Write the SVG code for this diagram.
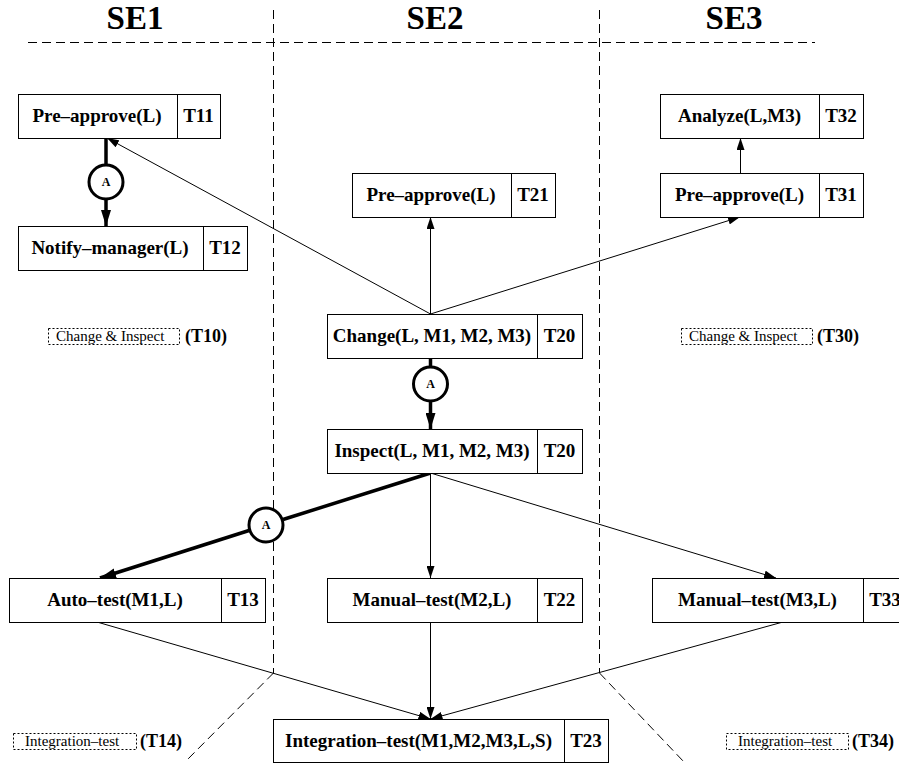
<svg xmlns="http://www.w3.org/2000/svg" width="899" height="764" viewBox="0 0 899 764">
  <style>
    .box { fill: #fff; stroke: #000; stroke-width: 1; }
    .div { stroke: #000; stroke-width: 1; }
    .name { font-family: "Liberation Serif", "Times New Roman", serif; font-weight: bold; font-size: 19px; text-anchor: middle; fill: #000; }
    .head { font-family: "Liberation Serif", "Times New Roman", serif; font-weight: bold; font-size: 33px; text-anchor: middle; fill: #000; }
    .note { font-family: "Liberation Serif", "Times New Roman", serif; font-size: 15px; fill: #000; }
    .tag { font-family: "Liberation Serif", "Times New Roman", serif; font-weight: bold; font-size: 18px; fill: #000; }
    .dotbox { fill: none; stroke: #000; stroke-width: 1; stroke-dasharray: 2 2; }
    .lane { fill: none; stroke: #000; stroke-width: 1; stroke-dasharray: 9 5; }
    .thin { fill: none; stroke: #000; stroke-width: 1; }
    .thick { fill: none; stroke: #000; stroke-width: 3.5; }
    .and { fill: #fff; stroke: #000; stroke-width: 3; }
    .andtxt { font-family: "Liberation Serif", "Times New Roman", serif; font-weight: bold; font-size: 12px; text-anchor: middle; fill: #000; }
  </style>
  <defs>
    <marker id="arr" markerUnits="userSpaceOnUse" markerWidth="12" markerHeight="8" refX="12" refY="4" orient="auto">
      <path d="M0,0 L12,4 L0,8 z" fill="#000"/>
    </marker>
    <marker id="arrBig" markerUnits="userSpaceOnUse" markerWidth="16" markerHeight="10" refX="16" refY="5" orient="auto">
      <path d="M0,0 L16,5 L0,10 z" fill="#000"/>
    </marker>
  </defs>

  <!-- swimlane headers and separators -->
  <g id="lanes">
    <text class="head" x="135" y="29">SE1</text>
    <text class="head" x="435" y="29">SE2</text>
    <text class="head" x="734" y="29">SE3</text>
    <line class="lane" x1="28" y1="42.5" x2="815" y2="42.5"/>
    <line class="lane" x1="273.5" y1="10" x2="273.5" y2="673"/>
    <line class="lane" x1="599.5" y1="10" x2="599.5" y2="673"/>
    <line class="lane" x1="273.5" y1="673" x2="185" y2="762"/>
    <line class="lane" x1="599.5" y1="673" x2="684" y2="762"/>
  </g>

  <!-- connectors -->
  <g id="connectors">
    <line class="thin" x1="430.5" y1="314" x2="107" y2="138" marker-end="url(#arr)"/>
    <line class="thin" x1="430.5" y1="314" x2="430.5" y2="217" marker-end="url(#arr)"/>
    <line class="thin" x1="430.5" y1="314" x2="740" y2="217" marker-end="url(#arr)"/>
    <line class="thin" x1="740.5" y1="173" x2="740.5" y2="138" marker-end="url(#arr)"/>
    <line class="thin" x1="430.5" y1="473" x2="430.5" y2="578" marker-end="url(#arr)"/>
    <line class="thin" x1="430.5" y1="473" x2="776" y2="578" marker-end="url(#arr)"/>
    <line class="thin" x1="97" y1="622" x2="430.5" y2="719" marker-end="url(#arr)"/>
    <line class="thin" x1="430.5" y1="622" x2="430.5" y2="719" marker-end="url(#arr)"/>
    <line class="thin" x1="783" y1="622" x2="430.5" y2="719" marker-end="url(#arr)"/>

    <!-- AND connectors -->
    <line class="thick" x1="106" y1="138" x2="106" y2="164"/>
    <line class="thick" x1="106" y1="200" x2="106" y2="226" marker-end="url(#arrBig)"/>
    <circle class="and" cx="106" cy="182" r="17"/>
    <text class="andtxt" x="106" y="186">A</text>

    <line class="thick" x1="430.5" y1="358" x2="430.5" y2="366"/>
    <line class="thick" x1="430.5" y1="402" x2="430.5" y2="429" marker-end="url(#arrBig)"/>
    <circle class="and" cx="430.5" cy="384" r="17"/>
    <text class="andtxt" x="430.5" y="388">A</text>

    <line class="thick" x1="430.5" y1="473" x2="283" y2="519.5"/>
    <line class="thick" x1="249" y1="530.5" x2="100" y2="578" marker-end="url(#arrBig)"/>
    <circle class="and" cx="266" cy="525" r="17"/>
    <text class="andtxt" x="266" y="529">A</text>
  </g>

  <!-- SE1 tasks -->
  <g id="T11">
    <rect class="box" x="18.5" y="94.5" width="202" height="44"/>
    <line class="div" x1="177.5" y1="94.5" x2="177.5" y2="138.5"/>
    <text class="name" x="97" y="122">Pre–approve(L)</text>
    <text class="name" x="198.5" y="122">T11</text>
  </g>
  <g id="T12">
    <rect class="box" x="18.5" y="226.5" width="229" height="44"/>
    <line class="div" x1="203.5" y1="226.5" x2="203.5" y2="270.5"/>
    <text class="name" x="110" y="254">Notify–manager(L)</text>
    <text class="name" x="225" y="254">T12</text>
  </g>
  <g id="T10">
    <rect class="dotbox" x="48.5" y="328.5" width="131" height="16"/>
    <text class="note" x="56" y="341">Change &amp; Inspect</text>
    <text class="tag" x="185" y="342">(T10)</text>
  </g>
  <g id="T13">
    <rect class="box" x="9.5" y="578.5" width="256" height="44"/>
    <line class="div" x1="221.5" y1="578.5" x2="221.5" y2="622.5"/>
    <text class="name" x="115" y="606">Auto–test(M1,L)</text>
    <text class="name" x="243" y="606">T13</text>
  </g>
  <g id="T14">
    <rect class="dotbox" x="13.5" y="733.5" width="123" height="16"/>
    <text class="note" x="25" y="746">Integration–test</text>
    <text class="tag" x="140" y="747">(T14)</text>
  </g>

  <!-- SE2 tasks -->
  <g id="T21">
    <rect class="box" x="352.5" y="173.5" width="203" height="44"/>
    <line class="div" x1="511.5" y1="173.5" x2="511.5" y2="217.5"/>
    <text class="name" x="431" y="201">Pre–approve(L)</text>
    <text class="name" x="533" y="201">T21</text>
  </g>
  <g id="T20-change">
    <rect class="box" x="327.5" y="314.5" width="255" height="44"/>
    <line class="div" x1="537.5" y1="314.5" x2="537.5" y2="358.5"/>
    <text class="name" x="432" y="342">Change(L, M1, M2, M3)</text>
    <text class="name" x="559.5" y="342">T20</text>
  </g>
  <g id="T20-inspect">
    <rect class="box" x="327.5" y="429.5" width="255" height="44"/>
    <line class="div" x1="537.5" y1="429.5" x2="537.5" y2="473.5"/>
    <text class="name" x="432" y="457">Inspect(L, M1, M2, M3)</text>
    <text class="name" x="559.5" y="457">T20</text>
  </g>
  <g id="T22">
    <rect class="box" x="327.5" y="578.5" width="255" height="44"/>
    <line class="div" x1="537.5" y1="578.5" x2="537.5" y2="622.5"/>
    <text class="name" x="432" y="606">Manual–test(M2,L)</text>
    <text class="name" x="559.5" y="606">T22</text>
  </g>
  <g id="T23">
    <rect class="box" x="273.5" y="719.5" width="335" height="43"/>
    <line class="div" x1="564.5" y1="719.5" x2="564.5" y2="762.5"/>
    <text class="name" x="418.5" y="747">Integration–test(M1,M2,M3,L,S)</text>
    <text class="name" x="586" y="747">T23</text>
  </g>

  <!-- SE3 tasks -->
  <g id="T32">
    <rect class="box" x="660.5" y="94.5" width="203" height="44"/>
    <line class="div" x1="819.5" y1="94.5" x2="819.5" y2="138.5"/>
    <text class="name" x="739.5" y="122">Analyze(L,M3)</text>
    <text class="name" x="841" y="122">T32</text>
  </g>
  <g id="T31">
    <rect class="box" x="660.5" y="173.5" width="203" height="44"/>
    <line class="div" x1="819.5" y1="173.5" x2="819.5" y2="217.5"/>
    <text class="name" x="739.5" y="201">Pre–approve(L)</text>
    <text class="name" x="841" y="201">T31</text>
  </g>
  <g id="T30">
    <rect class="dotbox" x="681.5" y="328.5" width="131" height="16"/>
    <text class="note" x="689" y="341">Change &amp; Inspect</text>
    <text class="tag" x="817" y="342">(T30)</text>
  </g>
  <g id="T33">
    <rect class="box" x="652.5" y="578.5" width="256" height="44"/>
    <line class="div" x1="863.5" y1="578.5" x2="863.5" y2="622.5"/>
    <text class="name" x="757.5" y="606">Manual–test(M3,L)</text>
    <text class="name" x="885" y="606">T33</text>
  </g>
  <g id="T34">
    <rect class="dotbox" x="726.5" y="733.5" width="122" height="16"/>
    <text class="note" x="738" y="746">Integration–test</text>
    <text class="tag" x="852" y="747">(T34)</text>
  </g>
</svg>
